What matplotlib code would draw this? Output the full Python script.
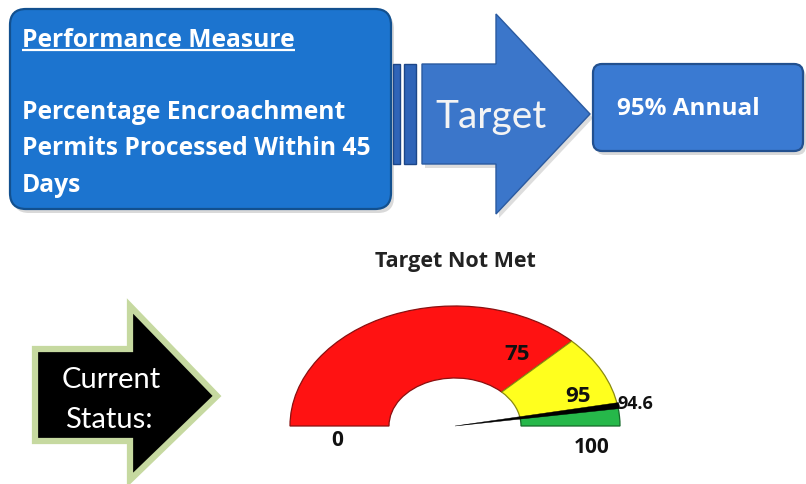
import matplotlib
matplotlib.use("Agg")
import matplotlib.pyplot as plt
from matplotlib.patches import FancyBboxPatch, Polygon, Wedge, Rectangle

# ---- content -------------------------------------------------------------
measure_title = "Performance Measure"
measure_lines = ["Percentage Encroachment", "Permits Processed Within 45", "Days"]
target_word = "Target"
target_text = "95% Annual"
status_lines = ["Current", "Status:"]
gauge_title = "Target Not Met"

scale_min, scale_max = 0, 100
band_edges = [0, 75, 95, 100]
band_colors = ["#ff1212", "#ffff1e", "#26b84a"]
band_edge_colors = ["#8a1010", "#8a8a10", "#156a2a"]
current_value = 94.6

BOLD = ["Open Sans", "DejaVu Sans"]
PLAIN = ["Lato", "DejaVu Sans"]
W, H = 806, 485

fig = plt.figure(figsize=(W / 100, H / 100), dpi=100)
fig.patch.set_facecolor("white")
ax = fig.add_axes([0, 0, 1, 1])
ax.set_xlim(0, W)
ax.set_ylim(H, 0)
ax.axis("off")


def rounded_box(x, y, w, h, r, fc, ec, shadow=True):
    if shadow:
        ax.add_patch(FancyBboxPatch((x + 3, y + 4), w, h,
                                    boxstyle=f"round,pad=0,rounding_size={r}",
                                    fc="#a0a0a0", ec="none", alpha=0.4, zorder=1))
    ax.add_patch(FancyBboxPatch((x, y), w, h,
                                boxstyle=f"round,pad=0,rounding_size={r}",
                                fc=fc, ec=ec, lw=1.6, zorder=2))


# ---- performance measure box ---------------------------------------------
rounded_box(10, 10, 381, 200, 16, "#1c74cf", "#12508f")
t = ax.text(22, 47, measure_title, color="white", fontsize=17.7, fontweight="bold",
            family=BOLD, va="baseline", ha="left", zorder=5)
fig.canvas.draw()
bb = t.get_window_extent(renderer=fig.canvas.get_renderer())
ax.plot([bb.x0, bb.x1], [51, 51], color="white", lw=1.6, zorder=5, solid_capstyle="butt")
for i, line in enumerate(measure_lines):
    ax.text(22, 119 + i * 36.5, line, color="white", fontsize=17.7, fontweight="bold",
            family=BOLD, va="baseline", ha="left", zorder=5)

# ---- connector bars and target arrow --------------------------------------
for bx, bw in [(393, 7), (404, 12)]:
    ax.add_patch(Rectangle((bx, 65), bw, 100, fc="#2f64b8", ec="#1d4688", lw=1.0, zorder=1.5))

arrow_pts = [(422, 65), (496, 65), (496, 15), (590, 115), (496, 215), (496, 165), (422, 165)]
shadow_pts = [(px + 3, py + 4) for px, py in arrow_pts]
ax.add_patch(Polygon(shadow_pts, closed=True, fc="#a0a0a0", ec="none", alpha=0.35, zorder=1))
ax.add_patch(Polygon(arrow_pts, closed=True, fc="#3b76ca", ec="#2a5aa0", lw=1.0, zorder=2))
ax.text(491, 128, target_word, color="#f4f4f4", fontsize=28, family=PLAIN,
        va="baseline", ha="center", zorder=5)

# ---- annual target box -----------------------------------------------------
rounded_box(593, 65, 210, 87, 9, "#3a7ad2", "#22508f")
ax.text(617, 115, target_text, color="white", fontsize=17.5, fontweight="bold",
        family=BOLD, va="baseline", ha="left", zorder=5)

# ---- current status arrow ---------------------------------------------------
status_pts = [(35, 350), (130, 350), (130, 307), (217, 397), (130, 481), (130, 442), (35, 442)]
ax.add_patch(Polygon(status_pts, closed=True, fc="black", ec="#c6d9a0", lw=4.5,
                     joinstyle="miter", zorder=2))
ax.text(111, 388, status_lines[0], color="white", fontsize=21, family=PLAIN,
        va="baseline", ha="center", zorder=5)
ax.text(109, 428, status_lines[1], color="white", fontsize=21, family=PLAIN,
        va="baseline", ha="center", zorder=5)

# ---- gauge title -------------------------------------------------------------
ax.text(455, 267, gauge_title, color="#222222", fontsize=15.5, fontweight="bold",
        family=BOLD, va="baseline", ha="center", zorder=5)

# ---- gauge --------------------------------------------------------------------
gx = fig.add_axes([290 / W, (H - 427) / H, 330 / W, 120 / H])
gx.set_xlim(-1, 1)
gx.set_ylim(0, 1)
gx.axis("off")


def angle_of(v):
    return 180.0 * (1 - (v - scale_min) / (scale_max - scale_min))


for lo, hi, fc, ec in zip(band_edges[:-1], band_edges[1:], band_colors, band_edge_colors):
    gx.add_patch(Wedge((0, 0), 1.0, angle_of(hi), angle_of(lo), width=0.6,
                       fc=fc, ec=ec, lw=0.9, clip_on=False))

needle_half = 0.8
gx.add_patch(Wedge((0, 0), 1.01, angle_of(current_value + needle_half),
                   angle_of(current_value - needle_half),
                   fc="black", ec="black", lw=0.3, clip_on=False, zorder=4))

label_kw = dict(fontweight="bold", family=BOLD, color="#111111", clip_on=False, zorder=6)
gx.text(0.376, 0.60, f"{band_edges[1]:g}", fontsize=16, ha="center", va="center", **label_kw)
gx.text(0.745, 0.25, f"{band_edges[2]:g}", fontsize=16, ha="center", va="center", **label_kw)
gx.text(0.985, 0.19, f"{current_value:g}", fontsize=13, ha="left", va="center", **label_kw)
gx.text(-0.715, -0.11, f"{scale_min:g}", fontsize=15, ha="center", va="center", **label_kw)
gx.text(0.83, -0.17, f"{scale_max:g}", fontsize=15, ha="center", va="center", **label_kw)

fig.savefig("out.png", dpi=100, facecolor="white")
